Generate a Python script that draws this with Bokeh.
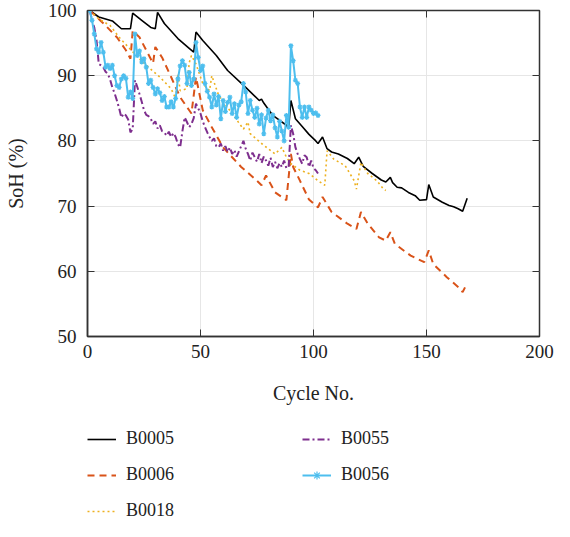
from bokeh.plotting import figure
from bokeh.layouts import column
from bokeh.models import (Range1d, LinearAxis, Legend, LegendItem, FixedTicker,
                          CustomJSTickFormatter)
from bokeh.embed import file_html
from bokeh.resources import INLINE

# ---------------- data ----------------
b0005_x = [1, 5, 11, 15, 19, 20, 24, 28, 30, 31, 34, 40, 45, 47, 48, 51, 57, 62, 70, 76, 77, 78, 82,
           88, 89, 90, 92, 95, 98, 101, 102, 104, 106, 108, 111, 115, 118, 120, 122, 126, 130, 132,
           134, 135, 137, 139, 142, 145, 147, 150, 151, 153, 157, 160, 162, 164, 166, 168]
b0005_y = [100, 99, 98.4, 97.2, 97.2, 99.6, 98.5, 97.4, 97.2, 99.7, 98, 95.7, 94.2, 93.6, 96.7, 95.4,
           93.1, 90.8, 88.2, 86.2, 86.4, 85.8, 83.9, 82.4, 81.9, 86.2, 83.4, 82.2, 81, 80, 79.6, 80.6,
           78.8, 78.3, 78, 77.3, 76.5, 77.5, 76.1, 75, 74, 73.7, 74.4, 73.6, 72.9, 72.8, 72.1, 71.6,
           70.9, 71, 73.3, 71.4, 70.6, 70.1, 69.9, 69.6, 69.2, 71.2]

b0006_x = [1, 4, 8, 13, 17, 19, 20, 23, 26, 29, 30, 33, 37, 41, 45, 46, 48, 51, 55, 60, 64, 68, 74,
           77, 79, 83, 88, 90, 91, 94, 98, 102, 104, 108, 115, 119, 121, 124, 129, 132, 134, 136,
           143, 149, 151, 153, 159, 165, 166, 168]
b0006_y = [100, 99, 97.7, 95.9, 93.9, 92.6, 96.9, 95.9, 93.9, 91.9, 94.4, 92.8, 89.8, 86.7, 84.7,
           84.2, 89.8, 84.7, 82.1, 79, 77.5, 76, 74.2, 73.2, 74.7, 72.1, 70.9, 78, 76, 73.9, 71,
           69.8, 71.4, 69.1, 67.3, 66.5, 69.1, 67.3, 65.2, 64.7, 66, 64.2, 62.4, 61.4, 63.2, 61.1,
           59.1, 57.3, 56.8, 58.2]

b0018_x = [1, 5, 10, 14, 18, 23, 27, 32, 37, 39, 40, 41, 44, 45, 46, 48, 51, 54, 55, 58, 64, 69,
           71, 72, 77, 83, 86, 88, 90, 94, 98, 102, 105, 106, 109, 114, 118, 119, 121, 124, 128,
           131, 132]
b0018_y = [100, 98.7, 97.7, 95.9, 94.4, 92.6, 91.3, 89.8, 88, 86.5, 90.3, 87.7, 88, 92, 93.1,
           91.8, 88.8, 87.7, 90, 87, 84.2, 81.8, 82.9, 81.1, 79.6, 78, 79, 77.5, 76.5, 75.5, 75,
           73.9, 73.2, 78.5, 77.2, 76.2, 73.9, 72.6, 76.7, 75, 73.9, 72.6, 72.4]

b0055_x = list(range(1, 103))
b0055_y = [100, 98.5, 97.4, 95.4, 91.8, 91.6, 91.3, 90.6, 90.3, 89.4,
           88.2, 87.3, 86.2, 85.0, 83.6, 84.2, 83.9, 83.3, 81.3, 81.8,
           89.3, 88.3, 87.2, 86.0, 84.7, 84.0, 83.8, 83.4, 82.6, 83.0,
           81.9, 82.4, 81.5, 81.3, 80.8, 81.4, 80.6, 81.2, 80.6, 79.5,
           79.0, 81.5, 83.6, 82.9, 82.1, 82.6, 83.5, 85.7, 85.0, 84.2,
           83.0, 82.1, 81.3, 80.6, 80.0, 80.4, 79.2, 79.0, 79.6, 78.5,
           79.2, 78.3, 79.0, 78.0, 78.6, 77.6, 78.4, 79.2, 80.0, 78.8,
           78.0, 77.0, 78.2, 77.5, 76.8, 78.0, 76.6, 77.6, 77.0, 76.2,
           77.4, 76.0, 76.8, 75.8, 76.6, 76.0, 77.0, 75.8, 76.0, 82.4,
           81.1, 79.0, 78.0, 77.2, 76.5, 77.8, 77.5, 76.0, 77.0, 75.8,
           75.5, 75.0]

b0056_x = list(range(1, 103))
b0056_y = [100, 98.5, 96.4, 94.1, 93.6, 95.1, 93.6, 91.3, 91.6, 91.1,
           91.6, 90.0, 88.5, 88.2, 89.5, 90.0, 89.6, 86.7, 87.5, 86.5,
           96.4, 93.1, 93.8, 92.1, 92.6, 91.3, 88.8, 89.3, 88.2, 87.2,
           88.0, 87.4, 86.2, 86.8, 85.2, 85.2, 86.0, 85.2, 86.5, 89.5,
           91.5, 92.3, 91.6, 88.8, 90.5, 88.5, 89.5, 95.1, 92.8, 90.8,
           91.5, 88.8, 87.6, 86.7, 85.2, 87.2, 85.5, 86.8, 83.4, 86.2,
           84.5, 85.9, 86.7, 84.2, 85.7, 83.6, 85.5, 86.0, 88.8, 87.5,
           84.2, 86.2, 84.7, 83.6, 85.0, 82.6, 84.0, 81.1, 83.5, 84.7,
           83.1, 84.0, 82.0, 80.6, 83.0, 81.5, 80.0, 83.9, 82.1, 94.6,
           92.3, 89.3, 88.8, 85.2, 83.6, 85.2, 83.6, 85.2, 84.7, 84.2,
           84.3, 83.9]

series_names = ["B0005", "B0006", "B0018", "B0055", "B0056"]
x_ticks = [0, 50, 100, 150, 200]
y_ticks = [50, 60, 70, 80, 90, 100]

FONT = "Liberation Serif"
TXT = "#222222"
FRAME = "#333333"

styles = {
    "B0005": dict(line_color="black", line_width=1.6),
    "B0006": dict(line_color="#D95319", line_width=2, line_dash="7 5"),
    "B0018": dict(line_color="#EDB120", line_width=1.6, line_dash="2 3"),
    "B0055": dict(line_color="#7E2F8E", line_width=2, line_dash="7 3 2 3"),
    "B0056": dict(line_color="#4DBEEE", line_width=2),
}
marker56 = dict(marker="asterisk", size=5, line_color="#4DBEEE", line_width=1.2)

# ---------------- main plot ----------------
p = figure(width=554, height=412, output_backend="svg", toolbar_location=None,
           x_range=Range1d(0, 200), y_range=Range1d(50, 100),
           min_border_left=87, min_border_right=15, min_border_top=10, min_border_bottom=76,
           background_fill_color="white", border_fill_color="white")

p.outline_line_color = FRAME
p.outline_line_width = 1.5
p.xgrid.ticker = FixedTicker(ticks=x_ticks)
p.ygrid.ticker = FixedTicker(ticks=y_ticks)
p.grid.grid_line_color = "#e6e6e6"
p.grid.grid_line_width = 1

for ax, ticks in ((p.xaxis[0], x_ticks), (p.yaxis[0], y_ticks)):
    ax.ticker = FixedTicker(ticks=ticks)
    ax.major_tick_in = 7
    ax.major_tick_out = 0
    ax.minor_tick_line_color = None
    ax.major_tick_line_color = FRAME
    ax.axis_line_color = FRAME
    ax.axis_line_width = 1.5
    ax.major_label_text_font = FONT
    ax.major_label_text_font_size = "19px"
    ax.major_label_text_color = TXT
    ax.axis_label_text_font = FONT
    ax.axis_label_text_font_size = "20px"
    ax.axis_label_text_font_style = "normal"
    ax.axis_label_text_color = TXT

p.xaxis[0].axis_label = "Cycle No."
p.xaxis[0].major_label_standoff = 8
p.xaxis[0].axis_label_standoff = 21
p.yaxis[0].axis_label = "SoH (%)"
p.yaxis[0].major_label_standoff = 11
p.yaxis[0].axis_label_standoff = 18

for loc, ticks in (("above", x_ticks), ("right", y_ticks)):
    a = LinearAxis(ticker=FixedTicker(ticks=ticks), major_tick_in=7, major_tick_out=0,
                   minor_tick_line_color=None, major_tick_line_color=FRAME,
                   axis_line_color=None, major_label_standoff=0,
                   formatter=CustomJSTickFormatter(code="return ''"))
    p.add_layout(a, loc)

p.line(b0005_x, b0005_y, **styles["B0005"])
p.line(b0006_x, b0006_y, **styles["B0006"])
p.line(b0018_x, b0018_y, **styles["B0018"])
p.line(b0055_x, b0055_y, **styles["B0055"])
p.line(b0056_x, b0056_y, **styles["B0056"])
p.scatter(b0056_x, b0056_y, **marker56)

# ---------------- legend panel ----------------
q = figure(width=554, height=109, output_backend="svg", toolbar_location=None,
           x_axis_type=None, y_axis_type=None, x_range=Range1d(0, 1), y_range=Range1d(0, 1),
           min_border=0, outline_line_color=None,
           background_fill_color="white", border_fill_color="white")
q.grid.visible = False

NAN = float("nan")
items = []
for name in series_names:
    r = q.line([NAN], [NAN], **styles[name])
    rs = [r]
    if name == "B0056":
        rs.append(q.scatter([NAN], [NAN], **marker56))
    items.append(LegendItem(label=name, renderers=rs))

legend = Legend(items=items, location=(0, 0), orientation="vertical", nrows=3,
                glyph_width=29, glyph_height=20, label_height=20, label_width=161,
                label_standoff=10, spacing=15, padding=0, margin=0,
                border_line_color=None, background_fill_alpha=0,
                label_text_font=FONT, label_text_font_size="18px", label_text_color=TXT)
q.add_layout(legend)

layout = column(p, q, spacing=0)
open("out.html", "w").write(file_html(layout, INLINE))
